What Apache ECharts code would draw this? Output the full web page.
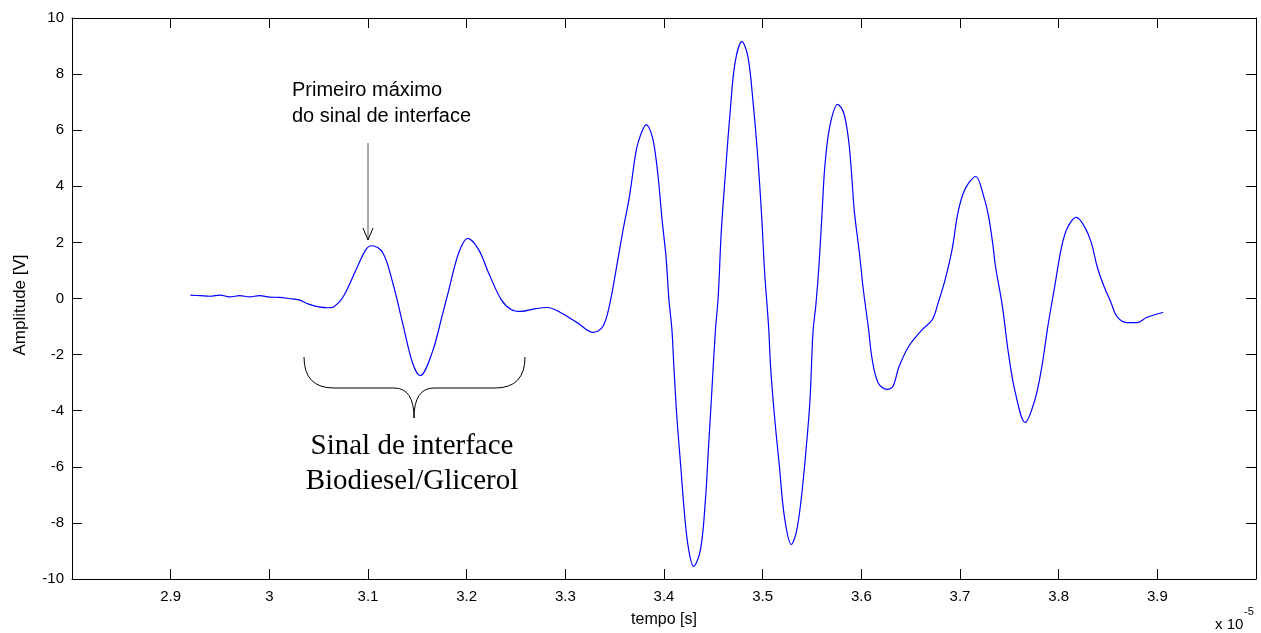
<!DOCTYPE html>
<html>
<head>
<meta charset="utf-8">
<script src="https://cdn.jsdelivr.net/npm/echarts@6/dist/echarts.min.js"></script>
<style>
html,body{margin:0;padding:0;background:#fff;}
#c{width:1261px;height:633px;}
</style>
</head>
<body>
<div id="c"></div>
<script>
// time in units of 1e-5 s
const tempo = [2.92,2.93,2.94,2.95,2.96,2.97,2.98,2.99,3.00,3.01,3.02,3.03,3.04,3.05,3.06,3.065,3.075,3.088,3.098,3.104,3.115,3.125,3.135,3.145,3.153,3.165,3.175,3.182,3.192,3.201,3.212,3.222,3.235,3.245,3.255,3.27,3.282,3.295,3.312,3.328,3.338,3.345,3.352,3.358,3.365,3.372,3.377,3.382,3.388,3.392,3.395,3.398,3.402,3.405,3.408,3.41,3.413,3.417,3.421,3.425,3.43,3.437,3.442,3.445,3.448,3.452,3.455,3.458,3.462,3.467,3.472,3.479,3.485,3.49,3.495,3.499,3.502,3.506,3.508,3.512,3.517,3.522,3.529,3.534,3.539,3.544,3.548,3.551,3.554,3.557,3.56,3.563,3.568,3.576,3.582,3.587,3.59,3.593,3.598,3.602,3.607,3.611,3.617,3.626,3.632,3.638,3.648,3.662,3.672,3.678,3.685,3.692,3.698,3.705,3.716,3.724,3.729,3.733,3.736,3.743,3.749,3.756,3.766,3.776,3.783,3.789,3.796,3.803,3.809,3.818,3.826,3.833,3.839,3.846,3.853,3.859,3.869,3.879,3.889,3.898,3.906];
const amplitude = [0.12,0.10,0.08,0.12,0.06,0.10,0.06,0.10,0.05,0.04,0.0,-0.05,-0.20,-0.30,-0.33,-0.30,0.07,1.03,1.75,1.88,1.63,0.57,-0.86,-2.28,-2.75,-1.93,-0.64,0.32,1.63,2.14,1.75,0.93,-0.04,-0.39,-0.46,-0.36,-0.32,-0.5,-0.86,-1.21,-1.0,-0.2,1.14,2.35,3.64,5.31,5.9,6.2,5.78,4.96,4.0,2.82,1.5,-0.04,-1.1,-2.42,-4.2,-6.0,-7.77,-8.95,-9.55,-8.95,-7.17,-5.38,-3.6,-1.2,0.1,2.35,4.35,6.63,8.4,9.16,8.63,7.1,5.06,2.92,0.93,-1.0,-2.42,-4.2,-6.0,-7.77,-8.77,-8.35,-7.17,-5.38,-3.6,-1.2,-0.2,1.14,2.92,4.7,6.13,6.92,6.63,5.67,4.5,3.07,1.64,0.32,-1.0,-2.17,-3.0,-3.24,-3.14,-2.45,-1.71,-1.1,-0.75,-0.14,0.68,1.75,3.07,3.89,4.35,3.64,2.92,2.0,1.14,-0.28,-1.93,-3.35,-4.42,-3.6,-2.42,-1.0,0.43,1.85,2.53,2.89,2.57,2.0,1.14,0.43,-0.14,-0.64,-0.86,-0.86,-0.68,-0.57,-0.5];
const xTicks = {min:2.8, max:4.0, interval:0.1};
const yTicks = {min:-10, max:10, interval:2};

const chart = echarts.init(document.getElementById('c'), null, {renderer:'canvas'});
const font = 'Liberation Sans, Arial, sans-serif';
const serif = 'Liberation Serif, Times New Roman, serif';
function axisCommon(){
  return {
    axisLine:{show:true, onZero:false, lineStyle:{color:'#000', width:1}},
    axisTick:{show:true, inside:true, length:10, lineStyle:{color:'#000', width:1}},
    splitLine:{show:false}
  };
}
const data = tempo.map((t,i)=>[t, amplitude[i]]);
const braceStyle = {stroke:'#000', lineWidth:1, fill:null};
chart.setOption({
  animation:false,
  backgroundColor:'#fff',
  grid:{left:72, right:5, top:18, bottom:54, containLabel:false},
  xAxis:[
    Object.assign({type:'value', position:'bottom', min:xTicks.min, max:xTicks.max, interval:xTicks.interval,
      axisLabel:{show:true, showMinLabel:false, showMaxLabel:false, color:'#000', fontFamily:font, fontSize:15, margin:10,
        formatter:v=>String(Math.round(v*10)/10)}}, axisCommon()),
    Object.assign({type:'value', position:'top', min:xTicks.min, max:xTicks.max, interval:xTicks.interval,
      axisLabel:{show:false}}, axisCommon())
  ],
  yAxis:[
    Object.assign({type:'value', position:'left', min:yTicks.min, max:yTicks.max, interval:yTicks.interval,
      axisLabel:{show:true, color:'#000', fontFamily:font, fontSize:15, margin:8}}, axisCommon()),
    Object.assign({type:'value', position:'right', min:yTicks.min, max:yTicks.max, interval:yTicks.interval,
      axisLabel:{show:false}}, axisCommon())
  ],
  series:[{
    type:'line', data:data, symbol:'none', smooth:0.35,
    xAxisIndex:0, yAxisIndex:0,
    lineStyle:{color:'#0000ff', width:1.2}
  }],
  graphic:[
    {type:'text', x:20, y:305, rotation:Math.PI/2, style:{text:'Amplitude [V]', font:'17px '+font, fill:'#000', align:'center', verticalAlign:'middle'}},
    {type:'text', x:664, y:620, style:{text:'tempo [s]', font:'16px '+font, fill:'#000', align:'center', verticalAlign:'middle'}},
    {type:'text', x:1215, y:625, style:{text:'x 10', font:'15px '+font, fill:'#000', align:'left', verticalAlign:'middle'}},
    {type:'text', x:1244, y:612, style:{text:'-5', font:'11px '+font, fill:'#000', align:'left', verticalAlign:'middle'}},
    {type:'text', x:292, y:90, style:{text:'Primeiro máximo', font:'20px '+font, fill:'#000', align:'left', verticalAlign:'middle'}},
    {type:'text', x:292, y:116, style:{text:'do sinal de interface', font:'20px '+font, fill:'#000', align:'left', verticalAlign:'middle'}},
    {type:'line', shape:{x1:368, y1:143, x2:368, y2:240}, style:{stroke:'#555', lineWidth:1}},
    {type:'polyline', shape:{points:[[363,228],[368,240],[373,228]]}, style:{stroke:'#000', lineWidth:1, fill:null}},
    {type:'bezierCurve', shape:{x1:304, y1:357, cpx1:304, cpy1:388, x2:334, y2:388}, style:braceStyle},
    {type:'line', shape:{x1:334, y1:388, x2:394, y2:388}, style:braceStyle},
    {type:'bezierCurve', shape:{x1:394, y1:388, cpx1:414, cpy1:388, x2:414, y2:418}, style:braceStyle},
    {type:'bezierCurve', shape:{x1:414, y1:418, cpx1:414, cpy1:388, x2:434, y2:388}, style:braceStyle},
    {type:'line', shape:{x1:434, y1:388, x2:495, y2:388}, style:braceStyle},
    {type:'bezierCurve', shape:{x1:495, y1:388, cpx1:525, cpy1:388, x2:525, y2:357}, style:braceStyle},
    {type:'text', x:412, y:446, style:{text:'Sinal de interface', font:'29px '+serif, fill:'#000', align:'center', verticalAlign:'middle'}},
    {type:'text', x:412, y:481, style:{text:'Biodiesel/Glicerol', font:'29px '+serif, fill:'#000', align:'center', verticalAlign:'middle'}}
  ]
});
</script>
</body>
</html>
